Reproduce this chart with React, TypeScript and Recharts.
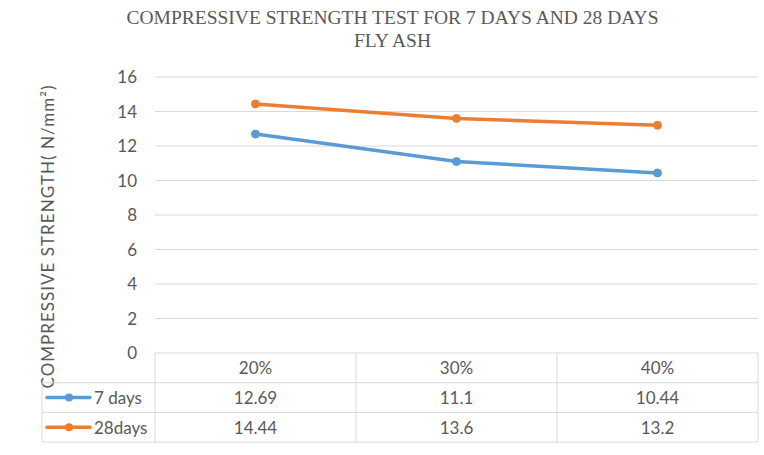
import React from 'react';
import { LineChart, Line, XAxis, YAxis, CartesianGrid } from 'recharts';

const CATEGORIES = ['20%', '30%', '40%'];
const DAYS_7 = [12.69, 11.1, 10.44];
const DAYS_28 = [14.44, 13.6, 13.2];
const Y_TICKS = [0, 2, 4, 6, 8, 10, 12, 14, 16];

const SERIES = [
    { key: 'd7', name: '7 days', values: DAYS_7, color: '#5B9BD5' },
    { key: 'd28', name: '28days', values: DAYS_28, color: '#ED7D31' },
];

const data = CATEGORIES.map((cat, i) => ({
    cat,
    d7: DAYS_7[i],
    d28: DAYS_28[i],
}));

const W = 764;
const H = 455;
const PLOT_LEFT = 155;
const PLOT_RIGHT = 758;
const COL_W = (PLOT_RIGHT - PLOT_LEFT) / CATEGORIES.length;
const ROW_H = 29.7;
const LEGEND_W = 113;
const GRID = '#d9d9d9';
const TEXT = '#595959';
const FONT = 'Lato, "Open Sans", sans-serif';
const FS = 17;

// draws one column of the data table under the plot (plus the legend column for the first one)
const TableTick = (props: any) => {
    const { x, y, payload } = props;
    const i = payload.index;
    const left = x - COL_W / 2;
    const right = x + COL_W / 2;
    const bottom = y + ROW_H * 3;
    const lineLeft = i === 0 ? left - LEGEND_W : left;
    return (
        <g fontFamily={FONT} fontSize={FS} fill={TEXT}>
            {i === 0 && <line x1={left} y1={y} x2={left} y2={bottom} stroke={GRID} />}
            {i === 0 && <line x1={left - LEGEND_W} y1={y + ROW_H} x2={left - LEGEND_W} y2={bottom} stroke={GRID} />}
            <line x1={right} y1={y} x2={right} y2={bottom} stroke={GRID} />
            {[1, 2, 3].map((r) => (
                <line key={r} x1={lineLeft} y1={y + ROW_H * r} x2={right} y2={y + ROW_H * r} stroke={GRID} />
            ))}
            <text x={x} y={y + ROW_H * 0.5} textAnchor="middle" dominantBaseline="central" fill={TEXT}>
                {payload.value}
            </text>
            {SERIES.map((s, r) => (
                <text key={s.key} x={x} y={y + ROW_H * (r + 1.5)} textAnchor="middle" dominantBaseline="central" fill={TEXT}>
                    {s.values[i]}
                </text>
            ))}
            {i === 0 &&
                SERIES.map((s, r) => {
                    const cy = y + ROW_H * (r + 1.5);
                    const lx = left - LEGEND_W + 5;
                    return (
                        <g key={s.key}>
                            <line x1={lx} y1={cy} x2={lx + 43} y2={cy} stroke={s.color} strokeWidth={3.5} strokeLinecap="round" />
                            <circle cx={lx + 22} cy={cy} r={4} fill={s.color} />
                            <text x={lx + 47} y={cy} dominantBaseline="central" fill={TEXT}>
                                {s.name}
                            </text>
                        </g>
                    );
                })}
        </g>
    );
};

const AxisTitle = () => (
    <text
        x={47}
        y={237}
        transform="rotate(-90 47 237)"
        textAnchor="middle"
        dominantBaseline="central"
        fontFamily={FONT}
        fontSize={FS}
        fill={TEXT}
        textLength={303}
        lengthAdjust="spacing"
    >
        COMPRESSIVE STRENGTH( N/mm²)
    </text>
);

export default function App() {
    return (
        <div style={{ position: 'absolute', left: 0, top: 0, width: W, height: H, background: '#fff' }}>
            <div
                style={{
                    position: 'absolute',
                    left: 0,
                    top: 6,
                    width: 785,
                    textAlign: 'center',
                    fontFamily: '"Liberation Serif", "Times New Roman", serif',
                    fontSize: 19.5,
                    lineHeight: '23px',
                    color: TEXT,
                }}
            >
                COMPRESSIVE STRENGTH TEST FOR 7 DAYS AND 28 DAYS
                <br />
                FLY ASH
            </div>
            <LineChart width={W} height={H} data={data} margin={{ top: 77, right: W - PLOT_RIGHT, bottom: 12, left: PLOT_LEFT - 40 }}>
                <CartesianGrid vertical={false} stroke={GRID} />
                <XAxis
                    dataKey="cat"
                    axisLine={false}
                    tickLine={false}
                    tickSize={0}
                    tickMargin={0}
                    height={90}
                    padding={{ left: COL_W / 2, right: COL_W / 2 }}
                    interval={0}
                    tick={<TableTick />}
                />
                <YAxis
                    width={40}
                    domain={[0, 16]}
                    ticks={Y_TICKS}
                    axisLine={false}
                    tickLine={false}
                    tickSize={8}
                    tickMargin={10}
                    tick={{ fill: TEXT, fontSize: FS, fontFamily: FONT }}
                    label={{ content: () => <AxisTitle /> }}
                />
                {SERIES.map((s) => (
                    <Line
                        key={s.key}
                        type="linear"
                        dataKey={s.key}
                        name={s.name}
                        stroke={s.color}
                        strokeWidth={3.5}
                        dot={{ r: 4, fill: s.color, stroke: s.color, strokeWidth: 1 }}
                        isAnimationActive={false}
                    />
                ))}
            </LineChart>
        </div>
    );
}
